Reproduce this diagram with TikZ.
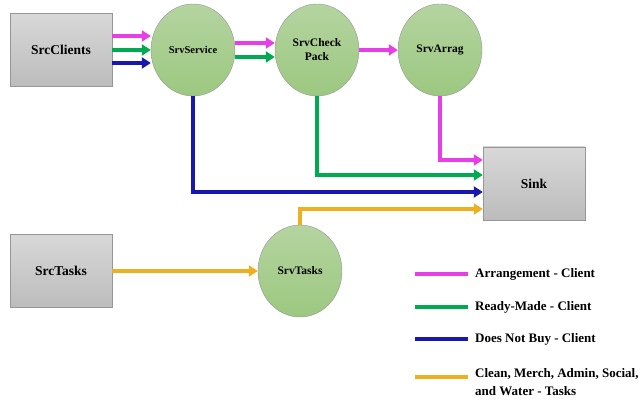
\documentclass[tikz,border=0pt]{standalone}
\usepackage{fontspec}
\setmainfont{Liberation Serif}
\usepackage{tikz}
\usetikzlibrary{arrows.meta,shapes.geometric}
\definecolor{cMag}{RGB}{232,62,232}
\definecolor{cGrn}{RGB}{0,170,80}
\definecolor{cBlu}{RGB}{24,24,176}
\definecolor{cYel}{RGB}{236,176,32}
\definecolor{cCircTop}{RGB}{180,212,160}
\definecolor{cCircBot}{RGB}{156,200,128}
\definecolor{cBoxTop}{RGB}{216,216,216}
\definecolor{cBoxBot}{RGB}{188,188,188}
\definecolor{cEdge}{RGB}{150,150,150}
\begin{document}
\begin{tikzpicture}[x=1pt,y=-1pt,>={Triangle[length=9pt,width=11pt]}
        ,srcbox/.style = {draw=cEdge,thin,rectangle,minimum width=102pt,minimum height=73pt,
                          top color=cBoxTop,bottom color=cBoxBot,font=\fontsize{13.5}{15}\selectfont\bfseries}
        ,srvnode/.style = {draw=cEdge,thin,ellipse,minimum width=84pt,minimum height=92pt,inner sep=1pt,
                          top color=cCircTop,bottom color=cCircBot,align=center,
                          font=\fontsize{11.5}{14}\selectfont\bfseries}
        ,flow/.style = {line width=3.4pt,->}
        ,key/.style = {line width=3.4pt}
        ,legend/.style = {anchor=west,inner sep=0pt,font=\fontsize{13}{18}\selectfont\bfseries}
      ]
      \useasboundingbox (0,0) rectangle (641,406);

      \node[srcbox](cli) at (61,50) {SrcClients};
      \node[srvnode,node distance=132pt,font=\fontsize{10.5}{12}\selectfont\bfseries](srv) [right of=cli] {SrvService};
      \node[srvnode,node distance=124pt](chk) [right of=srv] {SrvCheck\\Pack};
      \node[srvnode,node distance=123pt](arr) [right of=chk] {SrvArrag};
      \node[srcbox](sink) at (534,183.5) {Sink};
      \node[srcbox,node distance=221pt](tsk) [below of=cli] {SrcTasks};
      \node[srvnode,node distance=239pt](tsv) [right of=tsk] {SrvTasks};

      \draw[flow,cMag] ([yshift=14pt]cli.east) -- ([yshift=14pt]srv.west);
      \draw[flow,cGrn] (cli.east) -- (srv.west);
      \draw[flow,cBlu] ([yshift=-13pt]cli.east) -- ([yshift=-13pt]srv.west);

      \draw[flow,cMag] ([yshift=7pt]srv.east) -- ([yshift=7pt]chk.west);
      \draw[flow,cGrn] ([yshift=-7pt]srv.east) -- ([yshift=-7pt]chk.west);
      \draw[flow,cMag] (chk) -- (arr);

      \draw[flow,cMag] (arr.south) |- ([yshift=23.5pt]sink.west);
      \draw[flow,cGrn] (chk.south) |- ([yshift=8.5pt]sink.west);
      \draw[flow,cBlu] (srv.south) |- ([yshift=-8.5pt]sink.west);
      \draw[flow,cYel] (tsv.north) |- ([yshift=-25.5pt]sink.west);
      \draw[flow,cYel] (tsk) -- (tsv);

      \node[legend](legA) at (475,274) {Arrangement - Client};
      \node[legend](legB) at (475,307) {Ready-Made - Client};
      \node[legend](legC) at (475,339) {Does Not Buy - Client};
      \node[legend,anchor=north west,align=left](legD) at (475,368) {Clean, Merch, Admin, Social,\\and Water - Tasks};
      \coordinate (keyD) at (475,377);

      \draw[key,cMag] ([xshift=-60pt]legA.west) -- ([xshift=-7pt]legA.west);
      \draw[key,cGrn] ([xshift=-60pt]legB.west) -- ([xshift=-7pt]legB.west);
      \draw[key,cBlu] ([xshift=-60pt]legC.west) -- ([xshift=-7pt]legC.west);
      \draw[key,cYel] ([xshift=-60pt]keyD) -- ([xshift=-7pt]keyD);
    \end{tikzpicture}
\end{document}
